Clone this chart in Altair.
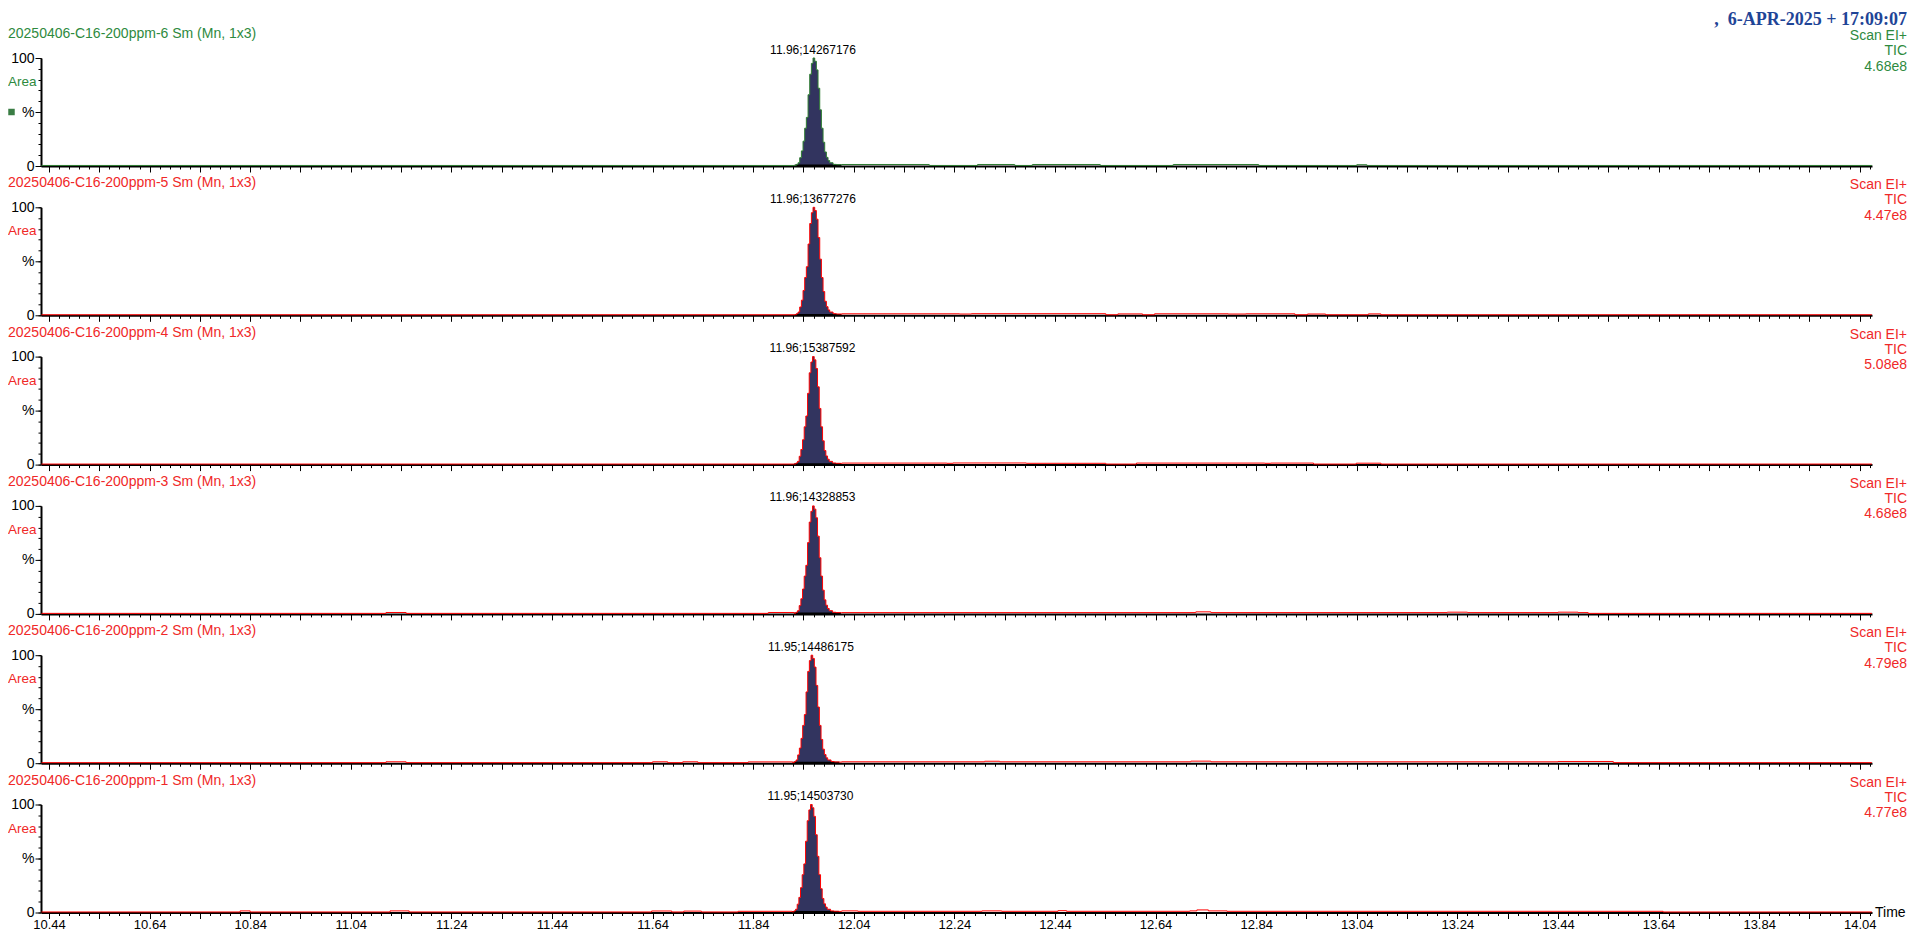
import altair as alt
import pandas as pd

# ---------------- data ----------------
titles = [
    "20250406-C16-200ppm-6 Sm (Mn, 1x3)",
    "20250406-C16-200ppm-5 Sm (Mn, 1x3)",
    "20250406-C16-200ppm-4 Sm (Mn, 1x3)",
    "20250406-C16-200ppm-3 Sm (Mn, 1x3)",
    "20250406-C16-200ppm-2 Sm (Mn, 1x3)",
    "20250406-C16-200ppm-1 Sm (Mn, 1x3)",
]
peak_labels = ["11.96;14267176", "11.96;13677276", "11.96;15387592",
               "11.96;14328853", "11.95;14486175", "11.95;14503730"]
tic_values = ["4.68e8", "4.47e8", "5.08e8", "4.68e8", "4.79e8", "4.77e8"]
apex_times = [11.959, 11.959, 11.958, 11.958, 11.955, 11.954]

# peak profile (minutes from apex, % of max)
peak_offsets = [-0.0364, -0.0331, -0.0298, -0.0265, -0.0232, -0.0199, -0.0166,
                -0.0133, -0.0099, -0.0066, -0.0033, 0.0, 0.0033, 0.0066, 0.0099,
                0.0133, 0.0166, 0.0199, 0.0232, 0.0265, 0.0298, 0.0331, 0.0398,
                0.0464, 0.0563]
peak_pct = [0.6, 1.5, 3.0, 7.7, 14, 23, 35, 45, 66, 85, 95, 100, 97, 89, 72,
            52, 35, 22, 13, 8, 5, 3, 1.5, 1.2, 1.0]

# baseline step levels per panel (time, %)
bl_t = [
    [10.425, 12.016, 12.19, 12.286, 12.36, 12.395, 12.53, 12.675, 12.845, 13.04, 13.06, 14.064],
    [10.425, 12.016, 12.25, 12.274, 12.541, 12.565, 12.614, 12.638, 12.784, 12.82, 12.917, 12.942, 12.978, 13.063, 13.088, 14.064],
    [10.425, 12.016, 12.225, 12.237, 12.383, 12.541, 12.602, 12.857, 12.869, 12.954, 13.039, 13.088, 14.064],
    [10.425, 11.11, 11.15, 11.87, 12.016, 12.72, 12.75, 13.22, 13.26, 13.44, 13.48, 13.5, 14.064],
    [10.425, 11.11, 11.15, 11.64, 11.67, 11.70, 11.73, 11.83, 12.016, 12.30, 12.33, 12.71, 12.75, 13.44, 13.55, 14.064],
    [10.425, 10.82, 10.84, 11.118, 11.156, 11.638, 11.678, 11.702, 11.737, 11.81, 12.016, 12.048, 12.295, 12.334, 12.446, 12.463, 12.708, 12.722, 12.745, 12.782, 13.649, 14.064],
]
bl_v = [
    [0.5, 1.4, 0.5, 1.4, 0.5, 1.4, 0.5, 1.4, 0.5, 1.2, 0.5, 0.5],
    [0.5, 1.4, 1.2, 1.5, 0.5, 1.3, 0.5, 1.4, 1.2, 1.4, 0.5, 1.2, 0.5, 1.3, 0.5, 0.5],
    [0.5, 1.4, 1.2, 1.5, 1.2, 0.5, 1.4, 1.2, 1.4, 0.5, 1.3, 0.5, 0.5],
    [0.5, 1.3, 0.5, 1.3, 1.2, 1.9, 1.2, 1.6, 1.2, 1.6, 1.2, 0.5, 0.5],
    [0.5, 1.3, 0.5, 1.3, 0.5, 1.3, 0.5, 1.2, 1.3, 1.8, 1.3, 1.9, 1.3, 1.6, 0.5, 0.5],
    [0.5, 1.5, 0.5, 1.5, 0.5, 1.4, 0.5, 1.3, 0.5, 1.1, 1.5, 1.1, 1.5, 1.1, 1.7, 1.1, 1.5, 2.4, 1.5, 1.1, 0.5, 0.5],
]

x_major_vals = [round(10.44 + 0.1 * k, 2) for k in range(37)]
x_minor_vals = [round(10.44 + 0.02 * k, 2) for k in range(182)]
y_minor_vals = list(range(0, 101, 10))

# ---------------- styling ----------------
W, H = 1831, 108
GREEN_TXT, GREEN_LINE = "#2E8A3E", "#2E7D32"
RED_TXT, RED_LINE = "#F02828", "#FF0000"
NAVY = "#32345F"
FONT = "Liberation Sans"
LEFT = -33
RIGHT = W + 35

xscale = alt.Scale(domain=[10.4241, 14.0643], nice=False, zero=False)
yscale = alt.Scale(domain=[0, 100], nice=False)


def panel(i):
    last = i == 5
    col_txt = GREEN_TXT if i == 0 else RED_TXT
    col_line = GREEN_LINE if i == 0 else RED_LINE
    apex = apex_times[i]
    pk_t = [apex + o for o in peak_offsets]
    p0, p1 = pk_t[0], pk_t[-1]
    rows = [(t, v) for t, v in zip(bl_t[i], bl_v[i]) if t < p0]
    rows += list(zip(pk_t, peak_pct))
    rows += [(t, v) for t, v in zip(bl_t[i], bl_v[i]) if t > p1]
    trace = pd.DataFrame(rows, columns=["t", "v"])
    peak = pd.DataFrame({"t": pk_t, "v": peak_pct})
    integ = pd.DataFrame({"t0": [p0], "t1": [p1], "b": [0.6]})
    lab = pd.DataFrame({"t": [apex], "label": [peak_labels[i]]})
    one = pd.DataFrame({"a": [0]})

    x_major = alt.Axis(
        values=x_major_vals, tickSize=6, labels=last,
        labelExpr="abs(round((datum.value - 10.44) * 100) % 20) < 0.5 ? format(datum.value, '.2f') : ''",
        labelFontSize=13, labelPadding=0, labelFlush=False, labelOverlap=False,
        domainWidth=2, domainColor="black", tickColor="black", tickWidth=1,
        title=None, grid=False, orient="bottom")
    x_minor = alt.Axis(values=x_minor_vals, tickSize=3, labels=False, domain=False,
                       tickColor="black", tickWidth=1, title=None, grid=False, orient="bottom")
    y_major = alt.Axis(
        values=[0, 50, 100], tickSize=6,
        labelExpr="datum.value == 100 ? '100' : (datum.value == 50 ? '%' : '0')",
        labelFontSize=14, labelPadding=1, labelFlush=False, labelOverlap=False,
        domainWidth=2, domainColor="black", tickColor="black", tickWidth=1,
        title=None, grid=False, orient="left")
    y_minor = alt.Axis(values=y_minor_vals, tickSize=3, labels=False, domain=False,
                       tickColor="black", tickWidth=1, title=None, grid=False, orient="left")

    layers = []
    layers.append(alt.Chart(trace).mark_point(opacity=0).encode(
        x=alt.X("t:Q", scale=xscale, axis=x_major),
        y=alt.Y("v:Q", scale=yscale, axis=y_major)))
    layers.append(alt.Chart(trace).mark_point(opacity=0).encode(
        x=alt.X("t:Q", scale=xscale, axis=x_minor),
        y=alt.Y("v:Q", scale=yscale, axis=y_minor)))
    layers.append(alt.Chart(peak).mark_area(color=NAVY, interpolate="step-after").encode(
        x=alt.X("t:Q", scale=xscale, axis=None),
        y=alt.Y("v:Q", scale=yscale, axis=None),
        y2=alt.datum(0.6)))
    layers.append(alt.Chart(integ).mark_rule(color="black", strokeWidth=1.5).encode(
        x=alt.X("t0:Q", scale=xscale, axis=None), x2="t1:Q",
        y=alt.Y("b:Q", scale=yscale, axis=None)))
    layers.append(alt.Chart(trace).mark_line(color=col_line, strokeWidth=1,
                                             interpolate="step-after").encode(
        x=alt.X("t:Q", scale=xscale, axis=None),
        y=alt.Y("v:Q", scale=yscale, axis=None)))
    layers.append(alt.Chart(lab).mark_text(font=FONT, fontSize=12, color="black",
                                           baseline="middle", align="center").encode(
        x=alt.X("t:Q", scale=xscale, axis=None), y=alt.value(-8.5), text="label:N"))
    layers.append(alt.Chart(one).mark_text(text=titles[i], font=FONT, fontSize=14,
                                           color=col_txt, align="left", baseline="middle").encode(
        x=alt.value(LEFT), y=alt.value(-24)))
    layers.append(alt.Chart(one).mark_text(text="Area", font=FONT, fontSize=13.5,
                                           color=col_txt, align="left", baseline="middle").encode(
        x=alt.value(LEFT), y=alt.value(24)))
    for txt, yy in [("Scan EI+", -22), ("TIC", -7), (tic_values[i], 8.5)]:
        layers.append(alt.Chart(one).mark_text(text=txt, font=FONT, fontSize=14,
                                               color=col_txt, align="right", baseline="middle").encode(
            x=alt.value(RIGHT), y=alt.value(yy)))
    if i == 0:
        layers.append(alt.Chart(one).mark_square(size=42, color="#3A7D44", opacity=1).encode(
            x=alt.value(LEFT + 3.5), y=alt.value(54)))
        layers.append(alt.Chart(one).mark_text(
            text=",\u00a0\u00a06-APR-2025 + 17:09:07", font="Liberation Serif", fontSize=18,
            fontWeight="bold", color="#1F4597", align="right", baseline="middle").encode(
            x=alt.value(RIGHT), y=alt.value(-38.5)))
    if last:
        layers.append(alt.Chart(one).mark_text(text="Time", font=FONT, fontSize=14,
                                               color="black", align="left", baseline="middle").encode(
            x=alt.value(W + 3), y=alt.value(H)))
    return alt.layer(*layers).resolve_axis(x="independent", y="independent").properties(
        width=W, height=H)


chart = alt.vconcat(*[panel(i) for i in range(6)], spacing=41.3, bounds="flush").properties(
    padding={"top": 2, "bottom": 0, "left": 0, "right": 0}
).configure_view(stroke=None).configure_axis(labelFont=FONT, labelColor="black")

chart.save("out.html", embed_options={"renderer": "svg", "actions": False})
